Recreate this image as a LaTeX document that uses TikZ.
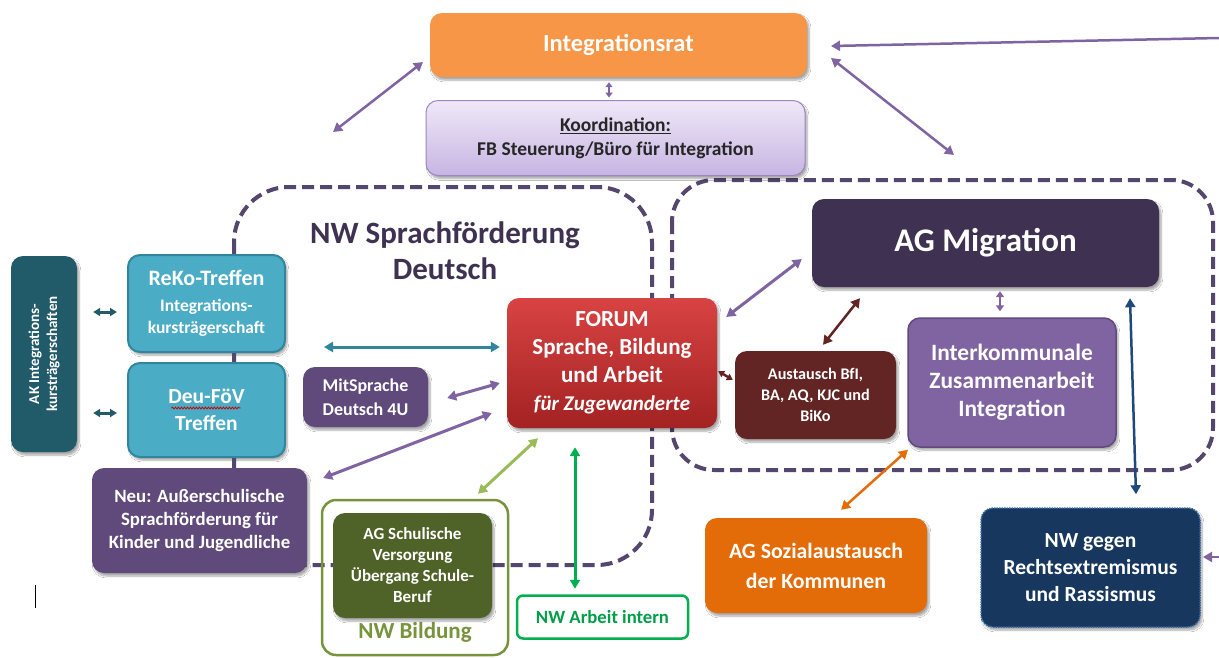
\documentclass[tikz,border=0pt]{standalone}
\usepackage{fontspec}
\setmainfont{Carlito}
\usetikzlibrary{arrows.meta,shadows.blur,calc,decorations.pathmorphing}

\definecolor{ratorange}{HTML}{F79646}
\definecolor{koordtop}{HTML}{EFE8F8}
\definecolor{koordbot}{HTML}{C7B5E2}
\definecolor{koordline}{HTML}{9C86C4}
\definecolor{akteal}{HTML}{215A69}
\definecolor{lightteal}{HTML}{4BACC6}
\definecolor{tealline}{HTML}{31859C}
\definecolor{violet}{HTML}{5F4A7B}
\definecolor{lavender}{HTML}{8064A2}
\definecolor{forumtop}{HTML}{D84343}
\definecolor{forumbot}{HTML}{A32222}
\definecolor{olive}{HTML}{4F6228}
\definecolor{olivelight}{HTML}{77933C}
\definecolor{limegreen}{HTML}{9BBB59}
\definecolor{brightgreen}{HTML}{00B050}
\definecolor{migration}{HTML}{3F3151}
\definecolor{maroon}{HTML}{632523}
\definecolor{sozorange}{HTML}{E36C09}
\definecolor{navy}{HTML}{17375E}
\definecolor{navyline}{HTML}{3A6A9E}
\definecolor{steelblue}{HTML}{1F497D}
\definecolor{regioncol}{HTML}{54466F}

\tikzset{
  box/.style={rounded corners=12pt, align=center, text=white,
    font=\bfseries, inner sep=0pt,
    blur shadow={shadow xshift=2pt, shadow yshift=-3pt, shadow opacity=35, shadow blur steps=6}},
  region/.style={draw=regioncol, line width=4pt, dash pattern=on 12pt off 6pt},
  arr/.style={{Triangle[length=9pt,width=10pt]}-{Triangle[length=9pt,width=10pt]}, line width=3pt, draw=lavender},
  fs/.style n args={2}{font=\fontsize{#1}{#2}\selectfont\bfseries},
}

\begin{document}
\begin{tikzpicture}[x=1pt,y=-1pt]
\useasboundingbox (0,0) rectangle (1219,657);
\fill[white] (0,0) rectangle (1219,657);

% dashed network regions
\draw[region, rounded corners=55pt] (234,187) rectangle (652,565);
\draw[region, rounded corners=42pt] (672,180) rectangle (1213,470);

\node[fs={31}{36}, text=migration, align=center] (nwsprach) at (445,251)
  {NW Sprachförderung\\Deutsch};

% top level
\node[box, fill=ratorange, minimum width=377pt, minimum height=64pt, fs={24.5}{28}]
  (rat) at (618.5,45) {Integrationsrat};
\node[box, top color=koordtop, bottom color=koordbot, draw=koordline, line width=1pt,
  minimum width=379pt, minimum height=75pt, text=black!85, fs={19.5}{24}]
  (koord) at (615.5,138) {\underline{Koordination:}\\FB Steuerung/Büro für Integration};

% left column
\node[box, fill=akteal, minimum width=66pt, minimum height=196pt] (ak) at (44,354) {};
\node[rotate=90, text=white, align=center, fs={15}{18}] (aktext) at (ak.center)
  {AK Integrations-\\kursträgerschaften};

\node[box, fill=lightteal, draw=tealline, line width=2pt, minimum width=157pt, minimum height=97pt,
  fs={17.5}{22}] (reko) at (206.5,303.5)
  {\fontsize{22}{22}\selectfont ReKo-Treffen\\[4pt]\fontsize{17.5}{22}\selectfont Integrations-\\kursträgerschaft};
\node[box, fill=lightteal, draw=tealline, line width=2pt, minimum width=157pt, minimum height=94pt,
  fs={21.5}{27}] (deu) at (206.5,410) {Deu-FöV\\Treffen};
% spell-check underline below "Deu-FöV"
\draw[red!80!black, line width=0.8pt, decorate,
  decoration={snake, amplitude=0.9pt, segment length=3pt}]
  ([shift={(-35,-2)}]deu.center) -- ([shift={(34,-2)}]deu.center);
\node[box, fill=violet, minimum width=215pt, minimum height=105pt, fs={18.8}{23}]
  (neu) at (199.5,520.5) {Neu: Außerschulische\\Sprachförderung für\\Kinder und Jugendliche};

% links of the dashed frame between the left boxes
\draw[regioncol, line width=4pt] ([xshift=27.5pt]reko.south) -- ([xshift=27.5pt]deu.north);
\draw[regioncol, line width=4pt] ([xshift=27.5pt]deu.south) -- ([xshift=34.5pt]neu.north);

\node[box, fill=violet, minimum width=125pt, minimum height=60pt, fs={18}{24}]
  (mit) at (365.5,397) {MitSprache\\Deutsch 4U};

% forum
\node[box, top color=forumtop, bottom color=forumbot, minimum width=210pt, minimum height=130pt,
  fs={23}{28}] (forum) at (612,363)
  {FORUM\\Sprache, Bildung\\und Arbeit\\\fontsize{21}{28}\selectfont\itshape für Zugewanderte};

% education network
\node[draw=olivelight, line width=2.5pt, rounded corners=14pt, minimum width=186pt,
  minimum height=155pt] (bildung) at (415,577.5) {};
\node[box, fill=olive, minimum width=159pt, minimum height=105pt, fs={17}{21}]
  (schul) at (412.5,565.5) {AG Schulische\\Versorgung\\Übergang Schule-\\Beruf};
\node[fs={23}{26}, text=olivelight] (bildungtext) at (415,632) {NW Bildung};

\node[draw=brightgreen, line width=2.5pt, rounded corners=6pt, minimum width=171pt,
  minimum height=43pt, fill=white, text=brightgreen!90!black, fs={18.7}{22}]
  (arbeit) at (602.5,617) {NW Arbeit intern};

% migration side
\node[box, fill=migration, minimum width=347pt, minimum height=88pt, fs={33}{38}]
  (migr) at (985.5,243) {AG Migration};
\node[box, fill=maroon, minimum width=161pt, minimum height=88pt, fs={16.2}{21}]
  (aust) at (815.5,395) {Austausch BfI,\\BA, AQ, KJC und\\BiKo};
\node[box, fill=lavender, draw=violet, line width=1.5pt, minimum width=208pt, minimum height=129pt,
  fs={23.4}{28}] (inter) at (1012,382.5) {Interkommunale\\Zusammenarbeit\\Integration};
\node[box, fill=sozorange, minimum width=222pt, minimum height=95pt, fs={21.8}{30}]
  (sozial) at (816,565.5) {AG Sozialaustausch\\der Kommunen};
\node[box, fill=navy, draw=navyline, line width=1.5pt, densely dotted, minimum width=219pt,
  minimum height=119pt, fs={21.5}{27}] (gegen) at (1090.5,567.5)
  {NW gegen\\Rechtsextremismus\\und Rassismus};

% free ends of connectors
\coordinate (ratL1) at (423,62);
\coordinate (ratL2) at (333,132);
\coordinate (ratR1) at (831,58);
\coordinate (ratR2) at (954,155);
\coordinate (edgeTop) at (1219,38);
\coordinate (ratE) at (831,46);
\coordinate (edgeBot) at (1219,557);
\coordinate (gegenE) at (1203,557);

% connectors
\draw[arr, line width=2pt, {Triangle[length=5pt,width=7pt]}-{Triangle[length=5pt,width=7pt]}]
  ([shift={(-9.5,5)}]rat.south) -- ([shift={(-6.5,-2.5)}]koord.north);
\draw[arr, line width=2.5pt] (ratL1) -- (ratL2);
\draw[arr, line width=2.5pt] (ratR1) -- (ratR2);
\draw[lavender, line width=2.5pt, -{Triangle[length=9pt,width=10pt]}] (edgeTop) -- (ratE);

\draw[arr, draw=akteal, {Triangle[length=7pt,width=8pt]}-{Triangle[length=7pt,width=8pt]}]
  ([shift={(16,-42)}]ak.east) -- ([shift={(-10,8.5)}]reko.west);
\draw[arr, draw=akteal, {Triangle[length=7pt,width=8pt]}-{Triangle[length=7pt,width=8pt]}]
  ([shift={(16,59)}]ak.east) -- ([shift={(-10,3)}]deu.west);

\draw[arr, draw=tealline] ([shift={(38,43.5)}]reko.east) -- ([shift={(-7,-16)}]forum.west);
\draw[arr] ([shift={(19,1)}]mit.east) -- ([shift={(-7,20)}]forum.west);
\draw[arr] ([shift={(16,-42.5)}]neu.east) -- ([shift={(-15,50)}]forum.west);
\draw[arr, draw=limegreen] ([shift={(-74,10)}]forum.south) -- ([shift={(63,-5)}]bildung.north);
\draw[arr, draw=brightgreen] ([shift={(-37,19)}]forum.south) -- ([shift={(-27.5,-5.5)}]arbeit.north);

\draw[arr] ([shift={(9,-46)}]forum.east) -- ([shift={(-10,16)}]migr.west);
\draw[arr, draw=maroon, line width=2.5pt] ([shift={(7.5,-6)}]aust.north) -- ([shift={(-125.5,11)}]migr.south);
\draw[arr, draw=maroon, line width=2.5pt, {Triangle[length=6pt,width=7pt]}-{Triangle[length=6pt,width=7pt]}]
  ([shift={(1,8)}]forum.east) -- ([shift={(-2,-15)}]aust.west);
\draw[arr, line width=2pt, {Triangle[length=6pt,width=8pt]}-{Triangle[length=6pt,width=8pt]}]
  ([shift={(14.5,4)}]migr.south) -- ([shift={(-12,-6)}]inter.north);
\draw[arr, draw=steelblue, line width=2.5pt] ([shift={(144.5,11)}]migr.south) -- ([shift={(45.5,-13)}]gegen.north);
\draw[arr, draw=sozorange, line width=2.5pt] ([shift={(-104,2)}]inter.south) -- ([shift={(25,-8)}]sozial.north);
\draw[lavender, line width=2.5pt, -{Triangle[length=9pt,width=10pt]}] (edgeBot) -- (gegenE);

% text cursor
\draw[black, line width=1pt] (35,585) -- (35,608);
\end{tikzpicture}
\end{document}
